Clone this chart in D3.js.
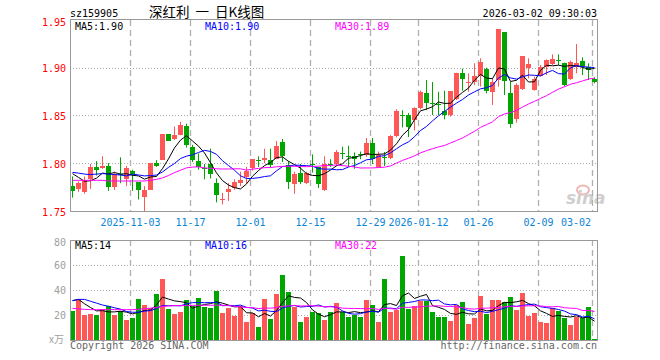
<!DOCTYPE html>
<html>
<head>
<meta charset="utf-8">
<script src="https://d3js.org/d3.v7.min.js"></script>
<style>
  body { margin: 0; background: #fff; }
  svg { display: block; font-family: "DejaVu Sans Mono", "Liberation Mono", monospace; font-size: 10px; }
</style>
</head>
<body>
<svg id="kline" width="660" height="360"></svg>
<script>
// ---- data ----
var tickIdx = [10, 20, 30, 40, 50, 58, 68, 78, 87];
var tickLabels = ["2025-11-03", "11-17", "12-01", "12-15", "12-29", "2026-01-12", "01-26", "02-09", "03-02"];
var priceTicks = [1.75, 1.80, 1.85, 1.90, 1.95];
var volTicks = [20, 40, 60, 80];
var priceLegend = ["MA5:1.90", "MA10:1.90", "MA30:1.89"];
var volLegend = ["MA5:14", "MA10:16", "MA30:22"];

var openP = [1.777,1.774,1.771,1.784,1.797,1.796,1.798,1.776,1.790,1.785,
  1.793,1.781,1.766,1.773,1.801,1.804,1.831,1.826,1.831,1.840,
  1.818,1.8035,1.7955,1.800,1.780,1.7635,1.7705,1.775,1.780,1.787,
  1.796,1.804,1.8045,1.8045,1.805,1.8225,1.799,1.780,1.7905,1.780,
  1.800,1.797,1.773,1.8003,1.800,1.811,1.8086,1.808,1.810,1.809,
  1.822,1.797,1.8072,1.8056,1.8285,1.851,1.8507,1.846,1.858,1.8743,
  1.8635,1.863,1.8556,1.851,1.8684,1.8951,1.8844,1.8858,1.8917,1.899,
  1.8753,1.8875,1.9375,1.8736,1.8469,1.8778,1.8997,1.8771,1.8917,1.9014,
  1.9049,1.9079,1.9056,1.8885,1.9014,1.9073,1.9014,1.8885];
var highP = [1.787,1.782,1.787,1.800,1.803,1.808,1.801,1.792,1.807,1.798,
  1.794,1.781,1.777,1.801,1.804,1.831,1.831,1.839,1.844,1.842,
  1.820,1.811,1.800,1.816,1.785,1.770,1.780,1.784,1.792,1.797,
  1.805,1.808,1.816,1.816,1.824,1.826,1.803,1.792,1.800,1.792,
  1.810,1.797,1.808,1.805,1.8145,1.818,1.819,1.812,1.813,1.827,
  1.827,1.813,1.8125,1.830,1.857,1.856,1.853,1.859,1.8764,1.8875,
  1.8854,1.8753,1.8764,1.876,1.8951,1.8993,1.8944,1.9049,1.9101,1.9003,
  1.8892,1.9406,1.9375,1.8858,1.884,1.9125,1.9101,1.891,1.9031,1.909,
  1.9142,1.9142,1.9056,1.9076,1.925,1.9111,1.9049,1.8903];
var lowP = [1.765,1.771,1.769,1.774,1.788,1.795,1.772,1.773,1.780,1.777,
  1.772,1.763,1.748,1.773,1.797,1.804,1.824,1.825,1.830,1.817,
  1.802,1.794,1.784,1.785,1.760,1.758,1.7615,1.773,1.777,1.780,
  1.793,1.797,1.801,1.7965,1.805,1.802,1.774,1.769,1.779,1.779,
  1.791,1.775,1.772,1.797,1.798,1.805,1.797,1.795,1.805,1.8076,
  1.800,1.7965,1.798,1.805,1.8278,1.838,1.828,1.835,1.857,1.8563,
  1.851,1.851,1.8465,1.8493,1.8667,1.8764,1.8753,1.8823,1.8806,1.8736,
  1.8615,1.8806,1.8719,1.8378,1.8431,1.8771,1.8892,1.8764,1.891,1.8927,
  1.9031,1.9031,1.8806,1.8875,1.8944,1.8927,1.8875,1.884];
var closeP = [1.772,1.7806,1.783,1.797,1.794,1.798,1.776,1.790,1.789,1.796,
  1.790,1.773,1.773,1.801,1.798,1.831,1.824,1.830,1.841,1.8205,
  1.804,1.797,1.795,1.790,1.767,1.764,1.774,1.781,1.783,1.793,
  1.805,1.8035,1.8065,1.799,1.819,1.808,1.781,1.790,1.781,1.7905,
  1.799,1.779,1.800,1.7997,1.8125,1.8097,1.808,1.8045,1.8094,1.822,
  1.8056,1.809,1.8066,1.829,1.855,1.8504,1.838,1.858,1.875,1.8642,
  1.8628,1.8625,1.851,1.876,1.8951,1.8885,1.8851,1.8917,1.9059,1.8764,
  1.8854,1.9406,1.8868,1.841,1.8823,1.9125,1.9042,1.8885,1.9007,1.9083,
  1.9097,1.9073,1.8823,1.9059,1.9056,1.9024,1.8979,1.8851];

var ma5 = [1.790,1.786,1.782,1.7826,1.7853,1.7905,1.7897,1.7911,1.7895,1.7899,
  1.7882,1.7876,1.7842,1.7865,1.7870,1.7952,1.8054,1.8168,1.8249,1.8294,
  1.8240,1.8186,1.8115,1.8013,1.7907,1.7827,1.7781,1.7754,1.7740,1.7792,
  1.7873,1.7932,1.7983,1.8015,1.8067,1.8074,1.8028,1.7994,1.7957,1.7899,
  1.7881,1.7878,1.7899,1.7937,1.7981,1.8002,1.8060,1.8069,1.8088,1.8107,
  1.8099,1.8101,1.8105,1.8145,1.8211,1.8300,1.8359,1.8462,1.8554,1.8572,
  1.8597,1.8646,1.8631,1.8633,1.8695,1.8746,1.8791,1.8873,1.8933,1.8895,
  1.8889,1.9000,1.8990,1.8860,1.8872,1.8926,1.8854,1.8857,1.8976,1.9028,
  1.9023,1.9029,1.9017,1.9027,1.9022,1.9007,1.8988,1.8994];
var ma10 = [1.7913,1.7905,1.7895,1.789,1.7895,1.790,1.7895,1.789,1.7885,1.7876,
  1.7894,1.7886,1.7876,1.7880,1.7885,1.7917,1.7965,1.8005,1.8057,1.8082,
  1.8096,1.8120,1.8142,1.8131,1.8101,1.8034,1.7984,1.7935,1.7877,1.7849,
  1.7850,1.7857,1.7869,1.7877,1.7929,1.7973,1.7980,1.7989,1.7986,1.7983,
  1.7977,1.7953,1.7946,1.7947,1.7940,1.7942,1.7969,1.7984,1.8013,1.8044,
  1.8051,1.8080,1.8087,1.8116,1.8159,1.8200,1.8230,1.8284,1.8349,1.8391,
  1.8449,1.8502,1.8547,1.8593,1.8634,1.8672,1.8719,1.8752,1.8783,1.8795,
  1.8818,1.8896,1.8932,1.8897,1.8884,1.8908,1.8927,1.8924,1.8918,1.8950,
  1.8975,1.8941,1.8937,1.9002,1.9025,1.9015,1.9009,1.9005];
var ma30 = [1.783,1.783,1.783,1.783,1.783,1.783,1.7823,1.7823,1.7823,1.7823,
  1.7823,1.7823,1.7823,1.783,1.784,1.7855,1.788,1.791,1.7935,1.796,
  1.7968,1.797,1.796,1.7955,1.795,1.7948,1.7948,1.795,1.795,1.7936,
  1.7947,1.7954,1.7962,1.7963,1.7971,1.7975,1.7976,1.7976,1.7973,1.7972,
  1.7975,1.7977,1.7986,1.7985,1.7990,1.7983,1.7977,1.7969,1.7958,1.7959,
  1.7959,1.7963,1.7967,1.7980,1.8009,1.8038,1.8060,1.8085,1.8116,1.8139,
  1.8159,1.8178,1.8193,1.8219,1.8244,1.8271,1.8306,1.8340,1.8382,1.8410,
  1.8439,1.8493,1.8522,1.8535,1.8559,1.8593,1.8625,1.8653,1.8683,1.8712,
  1.8747,1.8780,1.8805,1.8831,1.8847,1.8865,1.8885,1.8894];

var vol = [23.5,32.5,19.7,20.8,20.0,24.5,27.2,20.0,23.5,16.3,
  17.6,32.8,28.0,25.3,36.8,48.8,24.8,20.8,22.4,32.0,
  27.2,33.6,26.7,26.0,39.2,21.9,25.9,19.5,27.2,14.4,
  21.3,10.4,32.8,16.8,36.8,52.0,38.4,26.4,14.4,18.7,
  22.4,21.6,16.0,22.7,29.6,22.7,18.7,19.7,18.7,32.0,
  28.0,14.4,48.8,22.4,24.3,67.2,25.1,27.2,31.2,31.5,
  22.4,18.7,18.4,15.2,28.0,30.4,12.8,17.6,35.2,20.8,
  32.0,32.0,30.4,34.4,24.0,37.6,19.2,21.6,14.4,13.6,
  25.6,23.2,17.6,12.0,18.4,17.6,26.4,0.8];
var vma5 = [31.5,32.5,29,26,23.3,23.5,22.44,22.5,23.04,22.3,
  20.92,22.04,23.64,24.0,28.1,34.34,32.74,31.3,30.72,29.76,
  25.44,27.2,28.38,29.1,30.54,29.48,27.94,26.5,26.74,21.78,
  21.66,18.56,21.22,19.14,23.62,29.76,35.36,34.08,33.6,29.98,
  24.06,20.7,18.62,20.28,22.46,22.52,21.94,22.68,21.88,22.36,
  23.42,22.56,28.38,29.12,27.58,35.42,37.56,33.24,35.0,36.44,
  27.48,26.2,24.44,21.24,20.54,22.14,20.96,20.8,24.8,23.36,
  23.68,27.52,30.08,29.92,30.56,31.68,29.12,27.36,23.36,21.28,
  18.88,19.68,18.88,18.4,19.36,17.76,18.4,15.04];
var vma10 = [31.5,32.5,32.5,31,29.5,28,27,25.8,24.7,22.8,
  22.21,22.24,23.07,23.52,25.2,27.63,27.39,27.47,27.36,28.93,
  29.89,29.97,29.84,29.91,30.15,27.46,27.57,27.44,27.92,26.16,
  25.57,23.25,23.86,22.94,22.7,25.71,26.96,27.65,26.37,26.8,
  26.91,28.03,26.35,26.94,26.22,23.29,21.32,20.65,21.08,22.41,
  22.97,22.25,25.53,25.5,24.97,29.42,30.06,30.81,32.06,32.01,
  31.45,31.88,28.84,28.12,28.49,24.81,23.58,22.62,23.02,21.95,
  22.91,24.24,25.44,27.36,26.96,27.68,28.32,28.72,26.64,25.92,
  25.28,24.4,23.12,20.88,20.32,18.32,19.04,16.96];
var vma30 = [25.3,25,24.5,24.3,24.3,24.3,24.3,24.3,24.3,24.3,
  24.3,24.6,25,25.5,26,26.9,27.3,27.5,27.5,27.5,
  27.7,27.8,27.8,27.8,27.8,27.8,27.5,27.0,26.5,25.96,
  25.89,25.15,25.59,25.46,26.02,26.93,27.31,27.52,27.22,27.3,
  27.46,27.08,26.68,26.6,26.36,25.49,25.28,25.25,25.12,25.12,
  25.15,24.51,25.25,25.13,24.63,26.14,26.11,26.37,26.5,27.07,
  27.11,27.39,26.91,26.85,26.56,25.84,24.99,24.69,25.39,25.46,
  25.78,26.12,26.6,26.99,26.81,27.3,27.32,27.38,27.24,26.63,
  26.55,26.84,25.8,25.45,25.26,23.6,23.65,22.77];

// ---- layout ----
var svg = d3.select("#kline");
var n = openP.length;
var left = 70, right = 597;
var mainTop = 20, mainBot = 212, volTop = 240, volBot = 340;
var red = "#ff5656", green = "#00a600", grid = "#aaaaaa";

var x = d3.scaleBand().domain(d3.range(n)).range([left, left + n * 6]);
var y = d3.scaleLinear().domain([1.75, 1.95]).range([mainBot, mainTop]);
var yv = d3.scaleLinear().domain([0, 80]).range([volBot, volTop]);
var crisp = function(v) { return Math.floor(v) + 0.5; };
var colour = function(i) { return closeP[i] >= openP[i] ? red : green; };

var defs = svg.append("defs");
defs.append("clipPath").attr("id", "clipMain").append("rect")
  .attr("x", left).attr("y", mainTop - 1).attr("width", right - left + 1).attr("height", mainBot - mainTop);
defs.append("clipPath").attr("id", "clipVol").append("rect")
  .attr("x", left).attr("y", volTop).attr("width", right - left + 1).attr("height", volBot - volTop);

// grid lines
svg.append("g").selectAll("line").data(priceTicks.slice(1, -1)).join("line")
  .attr("x1", left).attr("x2", right)
  .attr("y1", function(d) { return crisp(y(d)); }).attr("y2", function(d) { return crisp(y(d)); })
  .attr("stroke", grid).attr("stroke-dasharray", "1,2");
svg.append("g").selectAll("line").data(volTicks.slice(0, -1)).join("line")
  .attr("x1", left).attr("x2", right)
  .attr("y1", function(d) { return crisp(yv(d)); }).attr("y2", function(d) { return crisp(yv(d)); })
  .attr("stroke", grid).attr("stroke-dasharray", "1,2");

[[mainTop, mainBot], [volTop, volBot]].forEach(function(p) {
  svg.append("g").selectAll("line").data(tickIdx).join("line")
    .attr("x1", function(i) { return x(i) + 0.5; }).attr("x2", function(i) { return x(i) + 0.5; })
    .attr("y1", p[0]).attr("y2", p[1])
    .attr("stroke", "#b0b0b0").attr("stroke-width", 1.3).attr("stroke-dasharray", "6,4");
});

// watermark
var wm = svg.append("g").attr("opacity", 0.55);
wm.append("ellipse").attr("cx", 583).attr("cy", 190).attr("rx", 6).attr("ry", 4.5)
  .attr("fill", "none").attr("stroke", "#e87a7a").attr("stroke-width", 2);
wm.append("text").attr("x", 566).attr("y", 204)
  .style("font-family", "DejaVu Sans").style("font-size", "17px")
  .style("font-style", "italic").style("font-weight", "bold")
  .attr("fill", "#a8a8a8").text("sina");

// candles
var cg = svg.append("g").attr("clip-path", "url(#clipMain)");
cg.selectAll("line.wick").data(d3.range(n)).join("line").attr("class", "wick")
  .attr("x1", function(i) { return x(i) + 2.5; }).attr("x2", function(i) { return x(i) + 2.5; })
  .attr("y1", function(i) { return y(highP[i]); }).attr("y2", function(i) { return y(lowP[i]); })
  .attr("stroke", colour);
cg.selectAll("rect.body").data(d3.range(n)).join("rect").attr("class", "body")
  .attr("x", function(i) { return x(i); }).attr("width", 5)
  .attr("y", function(i) { return Math.round(y(Math.max(openP[i], closeP[i]))); })
  .attr("height", function(i) { return Math.max(1, Math.round(Math.abs(y(openP[i]) - y(closeP[i])))); })
  .attr("fill", colour);

var mline = function(arr, sc) {
  return d3.line().x(function(d, i) { return x(i) + 2.5; }).y(function(d) { return sc(d); })(arr);
};
[[ma5, "#000000"], [ma10, "#0000ff"], [ma30, "#ff00ff"]].forEach(function(m) {
  cg.append("path").attr("d", mline(m[0], y)).attr("fill", "none").attr("stroke", m[1]).attr("stroke-width", 1);
});

// volume bars
var vg = svg.append("g").attr("clip-path", "url(#clipVol)");
vg.selectAll("rect").data(d3.range(n)).join("rect")
  .attr("x", function(i) { return x(i); }).attr("width", 5)
  .attr("y", function(i) { return Math.round(yv(vol[i])); })
  .attr("height", function(i) { return volBot - Math.round(yv(vol[i])); })
  .attr("fill", colour);
[[vma5, "#000000"], [vma10, "#0000ff"], [vma30, "#ff00ff"]].forEach(function(m) {
  vg.append("path").attr("d", mline(m[0], yv)).attr("fill", "none").attr("stroke", m[1]).attr("stroke-width", 1);
});

// frames
svg.append("rect").attr("x", left + 0.5).attr("y", mainTop - 0.5).attr("width", right - left).attr("height", mainBot - mainTop)
  .attr("fill", "none").attr("stroke", "#999999");
svg.append("rect").attr("x", left + 0.5).attr("y", volTop + 0.5).attr("width", right - left).attr("height", volBot - volTop)
  .attr("fill", "none").attr("stroke", "#999999");

// axis labels
svg.append("g").selectAll("text").data(priceTicks).join("text")
  .attr("x", 66).attr("y", function(d) { return Math.max(y(d) + 4, 26); })
  .attr("text-anchor", "end").attr("fill", "#ff0000").text(d3.format(".2f"));
svg.append("g").selectAll("text").data(volTicks).join("text")
  .attr("x", 66).attr("y", function(d) { return Math.max(yv(d) + 4, 245.5); })
  .attr("text-anchor", "end").attr("fill", "#a0a0a0").text(function(d) { return d; });
svg.append("text").attr("x", 64).attr("y", 343).attr("text-anchor", "end")
  .attr("fill", "#a0a0a0").style("font-family", "Noto Sans CJK SC").style("font-size", "10px").text("x万");

svg.append("g").selectAll("text").data(tickIdx).join("text")
  .attr("x", function(i, k) {
    var half = tickLabels[k].length * 3;
    return Math.min(x(i) + 0.5, right - 6 - half);
  })
  .attr("y", 226).attr("text-anchor", "middle").attr("fill", "#0a84d6")
  .text(function(i, k) { return tickLabels[k]; });

// legends
var legX = [75, 205, 335], legC = ["#000000", "#0000ff", "#ff00ff"];
priceLegend.forEach(function(t, k) {
  svg.append("text").attr("x", legX[k]).attr("y", 30).attr("fill", legC[k]).text(t);
});
volLegend.forEach(function(t, k) {
  svg.append("text").attr("x", legX[k]).attr("y", 249).attr("fill", legC[k]).text(t);
});

// headers and footers
svg.append("text").attr("x", 70).attr("y", 16.5).attr("fill", "#000").text("sz159905");
svg.append("text").attr("x", 149).attr("y", 16.5).attr("fill", "#000")
  .attr("xml:space", "preserve")
  .style("font-family", "Noto Sans CJK SC").style("font-size", "13.5px").text("深红利  一  日K线图");
svg.append("text").attr("x", right).attr("y", 16.5).attr("text-anchor", "end").attr("fill", "#000").text("2026-03-02 09:30:03");
svg.append("text").attr("x", 70).attr("y", 349).attr("fill", "#666").text("Copyright 2026 SINA.COM");
svg.append("text").attr("x", right).attr("y", 349).attr("text-anchor", "end").attr("fill", "#666").text("http://finance.sina.com.cn");
</script>
</body>
</html>
